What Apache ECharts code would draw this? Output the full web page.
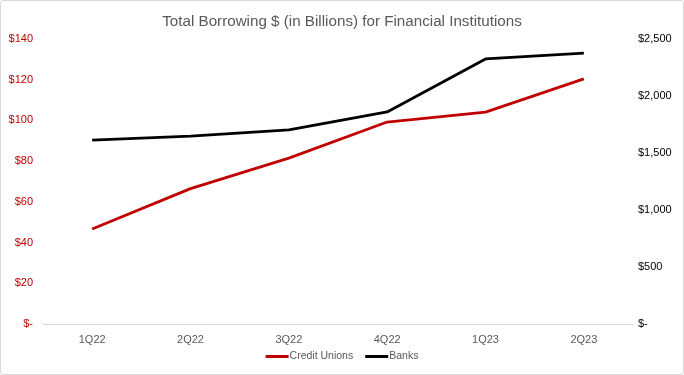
<!DOCTYPE html>
<html>
<head>
<meta charset="utf-8">
<script src="https://cdn.jsdelivr.net/npm/echarts@6/dist/echarts.min.js"></script>
<style>
html,body{margin:0;padding:0;background:#fff;}
#wrap{position:absolute;left:0;top:0;width:682px;height:373px;border:1px solid #d9d9d9;border-radius:3px;}
#chart{width:684px;height:375px;position:absolute;left:0;top:0;}
</style>
</head>
<body>
<div id="wrap"></div>
<div id="chart"></div>
<script>
const categories = ['1Q22','2Q22','3Q22','4Q22','1Q23','2Q23'];
const creditUnions = [46.7, 66.5, 81.5, 99.2, 104.1, 120.4];
const banks = [1614, 1649, 1702, 1860, 2325, 2377];
const leftTicks = [0, 20, 40, 60, 80, 100, 120, 140];
const rightTicks = [0, 500, 1000, 1500, 2000, 2500];

function fmt(v){ return v === 0 ? '$-' : '$' + v.toLocaleString('en-US'); }

const chart = echarts.init(document.getElementById('chart'), null, {renderer:'canvas'});
chart.setOption({
  animation:false,
  textStyle:{fontFamily:'Liberation Sans, Arial, sans-serif'},
  title:{
    text:'Total Borrowing $ (in Billions) for Financial Institutions',
    left:'center', top:9,
    textStyle:{fontSize:15.2, fontWeight:'normal', color:'#595959'}
  },
  legend:{
    bottom:8, left:'center',
    itemWidth:23, itemHeight:3, itemGap:12,
    icon:'rect',
    textStyle:{fontSize:10.5, color:'#595959', padding:[0,0,0,-4]},
    data:['Credit Unions','Banks']
  },
  grid:{left:43, right:51, top:39, bottom:51},
  xAxis:{
    type:'category', data:categories, boundaryGap:true,
    axisLine:{lineStyle:{color:'#d9d9d9', width:1}},
    axisTick:{show:false},
    axisLabel:{color:'#595959', fontSize:11, margin:10}
  },
  yAxis:[
    {type:'value', min:leftTicks[0], max:leftTicks[leftTicks.length-1], interval:20,
     splitLine:{show:false}, axisLine:{show:false}, axisTick:{show:false},
     axisLabel:{color:'#c00000', fontSize:11, margin:10, formatter:fmt}},
    {type:'value', min:rightTicks[0], max:rightTicks[rightTicks.length-1], interval:500,
     position:'right',
     splitLine:{show:false}, axisLine:{show:false}, axisTick:{show:false},
     axisLabel:{color:'#000000', fontSize:11, margin:5, formatter:fmt}}
  ],
  series:[
    {name:'Credit Unions', type:'line', yAxisIndex:0, data:creditUnions,
     symbol:'none', lineStyle:{color:'#c00000', width:2.75}, itemStyle:{color:'#c00000'}},
    {name:'Banks', type:'line', yAxisIndex:1, data:banks,
     symbol:'none', lineStyle:{color:'#000000', width:2.75}, itemStyle:{color:'#000000'}}
  ]
});
</script>
</body>
</html>
